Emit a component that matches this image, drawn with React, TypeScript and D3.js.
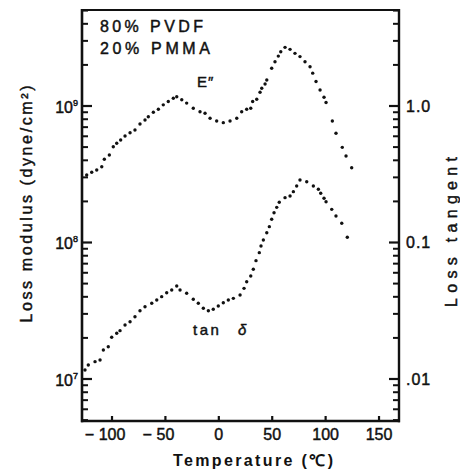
import React from 'react';
import * as d3 from 'd3';

// E'' (loss modulus, dyne/cm^2) vs temperature (°C)
const eTemp = [-123.7,-119.0,-114.3,-109.6,-107.2,-102.5,-98.8,-95.6,-91.9,-87.8,-83.1,-78.5,-73.8,-69.1,-66.0,-61.3,-56.6,-52.0,-47.3,-42.6,-39.4,-34.7,-30.1,-23.9,-17.6,-12.9,-8.2,-2.0,4.2,10.5,16.8,21.4,26.1,29.9,31.7,35.5,38.6,40.2,43.3,44.9,49.5,52.6,55.7,58.0,62.0,66.7,71.3,76.0,80.7,85.4,87.9,91.0,94.8,98.5,100.4,106.3,109.7,115.6,119.1,124.4];
const eValue = [3.12e8,3.27e8,3.40e8,3.59e8,4.07e8,4.38e8,5.03e8,5.33e8,5.64e8,6.03e8,6.37e8,6.67e8,7.38e8,7.89e8,8.35e8,8.99e8,9.46e8,1.02e9,1.08e9,1.14e9,1.17e9,1.11e9,1.05e9,9.62e8,9.08e8,8.85e8,8.13e8,7.77e8,7.55e8,7.77e8,8.13e8,9.08e8,9.46e8,9.62e8,1.08e9,1.12e9,1.26e9,1.35e9,1.45e9,1.55e9,1.89e9,2.11e9,2.32e9,2.50e9,2.69e9,2.60e9,2.43e9,2.30e9,2.11e9,1.94e9,1.74e9,1.51e9,1.31e9,1.16e9,1.06e9,7.76e8,6.31e8,4.98e8,4.30e8,3.53e8];

// tan delta (loss tangent) vs temperature (°C)
const tanTemp = [-125.3,-122.2,-115.9,-111.2,-108.1,-103.5,-100.3,-95.6,-92.5,-87.8,-83.1,-78.5,-73.8,-69.1,-62.8,-58.1,-53.5,-48.8,-44.1,-39.4,-36.3,-30.1,-23.9,-19.2,-14.5,-9.8,-5.2,-0.5,4.2,8.9,13.6,19.9,23.6,26.1,29.9,32.3,34.8,37.9,39.5,41.7,44.9,47.3,49.5,51.7,54.2,56.6,62.0,66.7,69.8,72.9,76.0,82.3,88.5,93.2,95.4,98.5,100.4,105.7,109.7,115.1,120.3];
const tanValue = [0.01164,0.01267,0.01340,0.01378,0.01630,0.01725,0.02022,0.02163,0.02261,0.02488,0.02630,0.02860,0.03163,0.03385,0.03586,0.03793,0.04010,0.04287,0.04487,0.04797,0.04487,0.04246,0.03837,0.03586,0.03298,0.03163,0.03243,0.03426,0.03622,0.03793,0.03899,0.04122,0.04616,0.05161,0.05684,0.06368,0.07362,0.08429,0.09428,0.1043,0.1180,0.1306,0.1479,0.1653,0.1810,0.1971,0.2131,0.2192,0.2357,0.2594,0.2870,0.2787,0.2594,0.2453,0.2293,0.2108,0.1990,0.1750,0.1563,0.1383,0.1092];

const xTicks = [-100, -50, 0, 50, 100, 150];
const xTickLabels = ['−100', '−50', '0', '50', '100', '150'];
const leftMajor = [1e7, 1e8, 1e9];
const leftMajorExp = ['7', '8', '9'];
const rightMajor = [0.01, 0.1, 1];
const rightLabels = ['.01', '0.1', '1.0'];

const FONT = '"Liberation Sans", Arial, sans-serif';

export default function App() {
  const W = 460, H = 473;
  const L = 82, R = 399, T = 10, B = 421;
  const x = d3.scaleLinear().domain([-128.1, 168.7]).range([L, R]);
  const yL = d3.scaleLog().domain([Math.pow(10, 6.6923), Math.pow(10, 9.7033)]).range([B, T]);
  const yR = d3.scaleLog().domain([Math.pow(10, -2.3077), Math.pow(10, 0.7033)]).range([B, T]);

  const minorL: number[] = [];
  for (let d = 6; d <= 9; d++) {
    for (let k = 2; k <= 9; k++) {
      const v = k * Math.pow(10, d);
      const [a, b] = yL.domain();
      if (v > a && v < b) minorL.push(v);
    }
  }
  const minorR: number[] = [];
  for (let d = -3; d <= 0; d++) {
    for (let k = 2; k <= 9; k++) {
      const v = k * Math.pow(10, d);
      const [a, b] = yR.domain();
      if (v > a && v < b) minorR.push(v);
    }
  }
  const ink = '#111';
  const ts = { stroke: ink, strokeWidth: 0.45 } as const;

  return (
    <svg width={W} height={H} style={{ position: 'absolute', left: 0, top: 0, background: '#fff' }} fontFamily={FONT}>
      <rect x={0} y={0} width={W} height={H} fill="#fff" />
      {/* frame */}
      <line x1={L} y1={T} x2={R} y2={T} stroke={ink} strokeWidth={2} />
      <line x1={L} y1={T - 1} x2={L} y2={B + 1.2} stroke={ink} strokeWidth={2.6} />
      <line x1={R} y1={T - 1} x2={R} y2={B + 1.2} stroke={ink} strokeWidth={2.4} />
      <line x1={L - 1} y1={B} x2={R + 1} y2={B} stroke={ink} strokeWidth={2.6} />

      {/* left ticks */}
      {minorL.map((v, i) => (
        <line key={'lm' + i} x1={L} x2={L + 6} y1={yL(v)} y2={yL(v)} stroke={ink} strokeWidth={2} />
      ))}
      {leftMajor.map((v, i) => (
        <g key={'lM' + i}>
          <line x1={L} x2={L + 10} y1={yL(v)} y2={yL(v)} stroke={ink} strokeWidth={2.2} />
          <text x={78} y={yL(v) + 7} textAnchor="end" fontSize={16} fill={ink} {...ts}>
            10<tspan fontSize={9} dy={-7}>{leftMajorExp[i]}</tspan>
          </text>
        </g>
      ))}

      {/* right ticks */}
      {minorR.map((v, i) => (
        <line key={'rm' + i} x1={R - 6} x2={R} y1={yR(v)} y2={yR(v)} stroke={ink} strokeWidth={2} />
      ))}
      {rightMajor.map((v, i) => (
        <g key={'rM' + i}>
          <line x1={R - 10} x2={R} y1={yR(v)} y2={yR(v)} stroke={ink} strokeWidth={2.2} />
          <text x={406} y={yR(v) + 6} textAnchor="start" fontSize={16} fill={ink} letterSpacing={1} {...ts}>
            {rightLabels[i]}
          </text>
        </g>
      ))}

      {/* bottom ticks */}
      {xTicks.map((t, i) => {
        const lab = xTickLabels[i];
        const neg = lab.startsWith('−');
        const num = neg ? lab.slice(1) : lab;
        const nw = num.length * 8.6;
        return (
          <g key={'xt' + i}>
            <line x1={x(t)} x2={x(t)} y1={B} y2={B - 5} stroke={ink} strokeWidth={2.2} />
            <text x={x(t)} y={440} textAnchor="middle" fontSize={16} fill={ink} {...ts}>{num}</text>
            {neg && (
              <text x={x(t) - nw / 2 - 5} y={440} textAnchor="end" fontSize={16} fill={ink} {...ts}>−</text>
            )}
          </g>
        );
      })}

      {/* E'' dots */}
      {eTemp.map((t, i) => (
        <circle key={'e' + i} cx={x(t)} cy={yL(eValue[i])} r={1.7} fill={ink} />
      ))}
      {/* tan delta dots */}
      {tanTemp.map((t, i) => (
        <circle key={'t' + i} cx={x(t)} cy={yR(tanValue[i])} r={1.7} fill={ink} />
      ))}

      {/* annotations */}
      <text x={100} y={32} fontSize={16} fill={ink} textLength={103} lengthAdjust="spacing" {...ts}>80% PVDF</text>
      <text x={100} y={54} fontSize={16} fill={ink} textLength={110} lengthAdjust="spacing" {...ts}>20% PMMA</text>
      <text x={197} y={87} fontSize={15} fill={ink} letterSpacing={1} {...ts}>E″</text>
      <text x={193} y={335} fontSize={15} fill={ink} letterSpacing={2.5} {...ts}>tan</text>
      <text x={238} y={335} fontSize={15} fill={ink} fontStyle="italic" {...ts}>δ</text>

      {/* axis titles */}
      <text x={253} y={466} textAnchor="middle" fontSize={16} fontWeight="bold" fill={ink}
        textLength={160} lengthAdjust="spacing">Temperature (℃)</text>
      <text transform="translate(32,204) rotate(-90)" textAnchor="middle" fontSize={16} fill={ink}
        textLength={237} lengthAdjust="spacing" {...ts}>Loss modulus (dyne/cm²)</text>
      <text transform="translate(457,232) rotate(-90)" textAnchor="middle" fontSize={16} fill={ink}
        textLength={150} lengthAdjust="spacing" {...ts}>Loss  tangent</text>
    </svg>
  );
}
